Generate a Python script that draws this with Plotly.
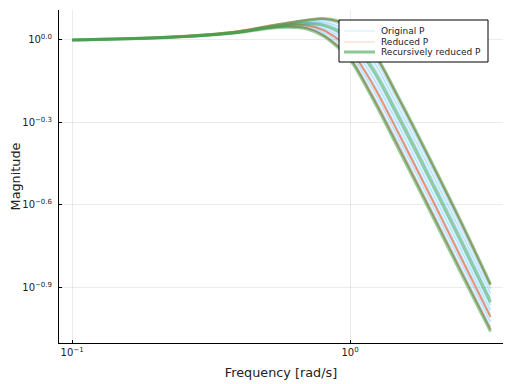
import numpy as np
import plotly.graph_objects as go

# Frequencies [rad/s]
freq = [0.1, 0.2, 0.3, 0.4, 0.5, 0.6, 0.7, 0.8, 0.9, 1.0, 1.2, 1.5, 2.0, 2.5, 3.2]

# log10 magnitude of each response
original_p = [
    [0.000, 0.007, 0.016, 0.027, 0.042, 0.048, 0.043, 0.021, -0.016, -0.060, -0.193, -0.381, -0.631, -0.827, -1.043],
    [0.000, 0.007, 0.016, 0.028, 0.042, 0.049, 0.046, 0.028, -0.006, -0.048, -0.175, -0.362, -0.612, -0.808, -1.026],
    [0.000, 0.007, 0.017, 0.028, 0.043, 0.051, 0.051, 0.037, 0.008, -0.030, -0.149, -0.334, -0.584, -0.780, -1.000],
    [0.000, 0.007, 0.017, 0.028, 0.044, 0.053, 0.054, 0.043, 0.018, -0.018, -0.131, -0.315, -0.565, -0.761, -0.983],
    [0.000, 0.008, 0.017, 0.029, 0.044, 0.054, 0.058, 0.050, 0.027, -0.006, -0.114, -0.297, -0.546, -0.743, -0.965],
    [0.000, 0.008, 0.017, 0.029, 0.045, 0.057, 0.062, 0.059, 0.042, 0.012, -0.088, -0.268, -0.517, -0.714, -0.940],
    [0.000, 0.008, 0.018, 0.029, 0.046, 0.058, 0.066, 0.065, 0.051, 0.024, -0.070, -0.250, -0.498, -0.696, -0.922],
    [0.000, 0.008, 0.018, 0.030, 0.046, 0.060, 0.069, 0.072, 0.061, 0.036, -0.053, -0.231, -0.479, -0.677, -0.905],
]
reduced_p = [
    [0.000, 0.007, 0.016, 0.028, 0.043, 0.049, 0.043, 0.018, -0.021, -0.067, -0.203, -0.392, -0.642, -0.838, -1.053],
    [0.000, 0.008, 0.018, 0.030, 0.046, 0.055, 0.053, 0.036, 0.004, -0.036, -0.158, -0.344, -0.593, -0.790, -1.008],
    [0.000, 0.009, 0.020, 0.033, 0.050, 0.064, 0.073, 0.077, 0.068, 0.046, -0.039, -0.216, -0.464, -0.662, -0.891],
]
recursive_p = [
    [0.000, 0.007, 0.016, 0.027, 0.041, 0.046, 0.040, 0.015, -0.025, -0.072, -0.210, -0.400, -0.650, -0.846, -1.060],
    [0.000, 0.008, 0.017, 0.029, 0.045, 0.055, 0.060, 0.054, 0.034, 0.002, -0.102, -0.283, -0.532, -0.729, -0.953],
    [0.000, 0.008, 0.018, 0.030, 0.047, 0.061, 0.072, 0.078, 0.070, 0.048, -0.035, -0.212, -0.460, -0.658, -0.888],
]

x_tickvals = [0.1, 1.0]
x_ticktext = ["10<sup>−1</sup>", "10<sup>0</sup>"]
y_tick_exps = [0.0, -0.3, -0.6, -0.9]
y_ticktext = ["10<sup>0.0</sup>", "10<sup>−0.3</sup>", "10<sup>−0.6</sup>", "10<sup>−0.9</sup>"]
legend_names = ["Original P", "Reduced P", "Recursively reduced P"]

groups = [
    (original_p, "rgba(0,154,250,0.28)", "rgba(0,154,250,0.10)", 1.6),
    (reduced_p, "rgba(227,111,71,0.75)", "rgba(227,111,71,0.15)", 2),
    (recursive_p, "rgba(62,164,78,0.55)", "rgba(62,164,78,0.6)", 3),
]

fig = go.Figure()
for curves, col, legcol, w in groups:
    for c in curves:
        fig.add_trace(go.Scatter(
            x=freq, y=10 ** np.array(c), mode="lines",
            line=dict(color=col, width=w, shape="spline", smoothing=1.0),
            showlegend=False, hoverinfo="skip"))

# page has an 8px body margin: figure 504x376 placed at (8,8)
OFF = 8
W, H = 512 - OFF, 384 - OFF
# plot area in window pixels: x 59..503, y 10..343
L, R, T, B = 59, 503, 10, 343
def px(xp):
    return (xp - L) / (R - L)
def py(yp):
    return (B - yp) / (B - T)

shapes = [dict(type="rect", xref="paper", yref="paper",
               x0=px(339), x1=px(488), y0=py(62), y1=py(20),
               line=dict(color="black", width=1), fillcolor="white", layer="above")]
annotations = []
row_y = [31, 42, 52]
for (curves, col, legcol, w), name, ry in zip(groups, legend_names, row_y):
    shapes.append(dict(type="line", xref="paper", yref="paper",
                       x0=px(344), x1=px(375), y0=py(ry), y1=py(ry),
                       line=dict(color=legcol, width=max(w, 2)), layer="above"))
    annotations.append(dict(xref="paper", yref="paper", x=px(379), y=py(ry),
                            xanchor="left", yanchor="middle", text=name,
                            showarrow=False, font=dict(size=9, color="#222")))

font = "DejaVu Sans"
fig.update_layout(
    width=W, height=H,
    margin=dict(l=L - OFF, r=W - (R - OFF), t=T - OFF, b=H - (B - OFF), autoexpand=False),
    paper_bgcolor="white", plot_bgcolor="white",
    font=dict(family=font, size=10, color="#222"),
    showlegend=False,
    shapes=shapes, annotations=annotations,
    xaxis=dict(type="log", range=[-1.047, 0.55], automargin=False,
               tickvals=x_tickvals, ticktext=x_ticktext,
               tickfont=dict(size=10),
               ticks="inside", ticklen=3, tickcolor="black",
               showline=True, linecolor="black", linewidth=1,
               showgrid=True, gridcolor="rgba(0,0,0,0.08)", gridwidth=1,
               zeroline=False, mirror=False,
               title=dict(text="Frequency [rad/s]", font=dict(size=12.8, family=font), standoff=11)),
    yaxis=dict(type="log", range=[-1.102, 0.109], automargin=False,
               tickvals=[10 ** e for e in y_tick_exps], ticktext=y_ticktext,
               tickfont=dict(size=10), ticklabelstandoff=4,
               ticks="inside", ticklen=3, tickcolor="black",
               showline=True, linecolor="black", linewidth=1,
               showgrid=True, gridcolor="rgba(0,0,0,0.08)", gridwidth=1,
               zeroline=False,
               title=dict(text="Magnitude", font=dict(size=12.8, family=font), standoff=6)),
)
fig.write_html("out.html")
